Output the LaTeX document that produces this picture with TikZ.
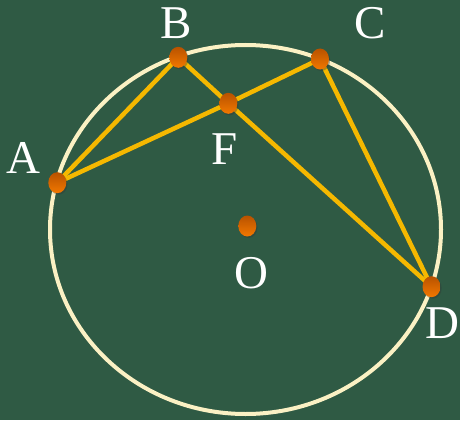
\documentclass[tikz,border=0pt]{standalone}
\usepackage{fontspec}
\setmainfont{Liberation Serif}
\usetikzlibrary{shapes.geometric,shadows}
\definecolor{board}{HTML}{2F5A44}
\definecolor{ring}{HTML}{FBF1C4}
\definecolor{seg}{HTML}{F5B800}
\definecolor{dotdark}{HTML}{B85200}
\definecolor{dotlight}{HTML}{F27800}
\tikzset{
  dot/.style={ellipse, minimum width=18pt, minimum height=21pt, inner sep=0pt,
    top color=dotdark, bottom color=dotlight, draw=none,
    drop shadow={shadow xshift=1.2pt, shadow yshift=-1.5pt, opacity=0.35, fill=black!80}},
  seg/.style={draw=seg, line width=4.5pt, line cap=round, line join=round},
  ringline/.style={draw=ring, line width=4pt},
  lab/.style={text=white, font=\fontsize{47}{47}\selectfont, inner sep=0pt}
}
\begin{document}
\begin{tikzpicture}[x=1pt,y=-1pt]
\fill[board] (0,0) rectangle (460,420);
\useasboundingbox (0,0) rectangle (460,420);
\clip (0,0) rectangle (460,420);
\coordinate (O) at (247.3,226);
\coordinate (A) at (57.3,182.7);
\coordinate (B) at (178.3,57.3);
\coordinate (C) at (320,59);
\coordinate (F) at (228.3,103.3);
\coordinate (D) at (431.5,286.7);
\coordinate (Oc) at (245.5,229.5);
\draw[ringline] (Oc) ellipse [x radius=195.5pt, y radius=184.5pt];
\draw[seg] (A) -- (B);
\draw[seg] (A) -- (F) -- (C);
\draw[seg] (B) -- (F) -- (D);
\draw[seg] (C) -- (D);
\foreach \p in {A,B,C,F,D,O} { \node[dot] (dot\p) at (\p) {}; }
\node[lab] (lA) at (23.3,158.3) {A};
\node[lab] (lB) at (175.7,23.3) {B};
\node[lab] (lC) at (370,23.3) {C};
\node[lab] (lF) at (225,149) {F};
\node[lab] (lO) at (251.7,272.7) {O};
\node[lab] (lD) at (442,323.3) {D};
\end{tikzpicture}
\end{document}
